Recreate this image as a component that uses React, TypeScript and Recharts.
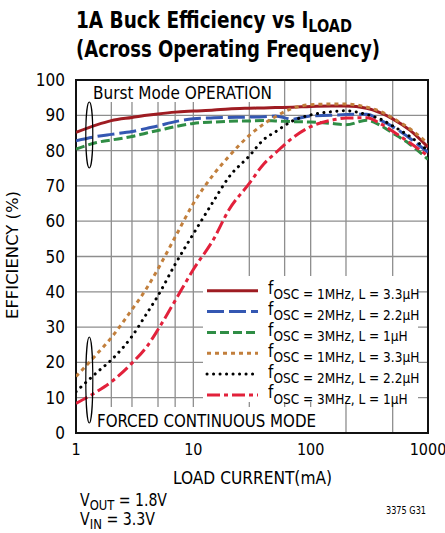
import React from 'react';
import {
  LineChart,
  Line,
  XAxis,
  YAxis,
  CartesianGrid,
  ReferenceArea
} from 'recharts';

// load current (mA), shared by every curve
const loadCurrent = [1, 1.5, 2, 3, 4, 5, 7, 10, 15, 20, 30, 40, 50, 70, 100, 150, 200, 300, 400, 500, 700, 1000];

// efficiency (%)
const burst1MHz = [85.2, 87.3, 88.5, 89.4, 90.0, 90.4, 90.9, 91.2, 91.5, 91.8, 92.0, 92.1, 92.2, 92.3, 92.5, 92.6, 92.6, 92.0, 90.6, 89.0, 85.8, 81.0];
const burst2MHz = [82.8, 84.0, 84.6, 85.4, 86.3, 87.0, 88.2, 89.0, 89.3, 89.4, 89.5, 89.6, 89.8, 88.9, 89.8, 90.0, 90.2, 90.3, 88.5, 86.8, 83.5, 79.5];
const burst3MHz = [80.4, 82.3, 83.0, 84.0, 85.0, 85.7, 86.8, 87.7, 88.1, 88.3, 88.4, 88.5, 88.4, 88.2, 88.1, 87.7, 87.3, 88.6, 87.0, 85.0, 81.8, 77.5];
const forced1MHz = [16.0, 22.3, 27.0, 35.0, 41.0, 46.5, 55.5, 65.0, 73.4, 78.3, 84.3, 87.6, 89.6, 92.0, 93.0, 93.2, 93.2, 92.3, 91.0, 89.2, 86.2, 82.0];
const forced2MHz = [11.7, 17.1, 20.7, 27.4, 33.8, 38.9, 47.8, 56.4, 65.9, 72.4, 78.5, 83.2, 85.3, 88.4, 90.1, 91.0, 91.3, 90.2, 88.8, 87.0, 84.0, 80.0];
const forced3MHz = [8.4, 11.7, 14.5, 19.8, 24.4, 29.3, 37.5, 46.3, 55.1, 63.1, 70.7, 76.3, 79.3, 83.6, 86.8, 88.6, 89.2, 89.3, 87.5, 85.5, 82.2, 78.5];

const xTicks = [1, 10, 100, 1000];
const yTicks = [0, 10, 20, 30, 40, 50, 60, 70, 80, 90, 100];
// log grid: 1..9 in every decade
const xGrid = [1, 10, 100].flatMap(d => [1, 2, 3, 4, 5, 6, 7, 8, 9].map(m => m * d)).concat([1000]);

const legendLabels = [
  { sub: 'OSC = 1MHz, L = 3.3μH', w: 147 },
  { sub: 'OSC = 2MHz, L = 2.2μH', w: 147 },
  { sub: 'OSC = 3MHz, L = 1μH', w: 135 },
  { sub: 'OSC = 1MHz, L = 3.3μH', w: 147 },
  { sub: 'OSC = 2MHz, L = 2.2μH', w: 147 },
  { sub: 'OSC = 3MHz, L = 1μH', w: 135 }
];

const seriesStyles = [
  { key: 'b1', stroke: '#9e1c22', dash: undefined, cap: 'butt' },
  { key: 'b2', stroke: '#3457b2', dash: '17 5', cap: 'butt' },
  { key: 'b3', stroke: '#2f8d45', dash: '9 4', cap: 'butt' },
  { key: 'f1', stroke: '#c27f3c', dash: '4 4', cap: 'butt' },
  { key: 'f2', stroke: '#000000', dash: '0.1 6.4', cap: 'round' },
  { key: 'f3', stroke: '#e2213b', dash: '13 4 4 4', cap: 'butt' }
];

const chartData = loadCurrent.map((x, i) => ({
  x,
  b1: burst1MHz[i],
  b2: burst2MHz[i],
  b3: burst3MHz[i],
  f1: forced1MHz[i],
  f2: forced2MHz[i],
  f3: forced3MHz[i]
}));

const font = "'Liberation Sans Narrow', 'DejaVu Sans Condensed', 'Roboto Condensed', sans-serif";

export default function App() {
  return (
    <div style={{ position: 'absolute', left: 0, top: 0, width: 445, height: 533, background: '#fff', fontFamily: font }}>
      <LineChart
        width={445}
        height={533}
        data={chartData}
        margin={{ top: 80, right: 17, left: 36, bottom: 70 }}
      >
        <CartesianGrid
          stroke="#8e8e8e"
          strokeWidth={1.3}
          horizontalValues={yTicks}
          verticalValues={xGrid}
        />
        <XAxis
          dataKey="x"
          type="number"
          scale="log"
          domain={[1, 1000]}
          ticks={xTicks}
          allowDataOverflow
          axisLine={false}
          tickLine={false}
          tickSize={0}
          tickMargin={11}
          height={30}
          tick={{ fill: '#000', fontSize: 16, fontFamily: font }}
        />
        <YAxis
          type="number"
          domain={[0, 100]}
          ticks={yTicks}
          axisLine={false}
          tickLine={false}
          tickSize={0}
          tickMargin={11}
          width={40}
          tick={{ fill: '#000', fontSize: 17, fontFamily: font }}
        />
        {seriesStyles.map(s => (
          <Line
            key={s.key}
            type="monotone"
            dataKey={s.key}
            stroke={s.stroke}
            strokeWidth={3}
            strokeDasharray={s.dash}
            strokeLinecap={s.cap as any}
            dot={false}
            isAnimationActive={false}
          />
        ))}
        <ReferenceArea x1={1} x2={1000} y1={0} y2={100} fill="none" stroke="#111" strokeWidth={2} ifOverflow="visible" />
      </LineChart>

      <svg width={445} height={533} style={{ position: 'absolute', left: 0, top: 0, pointerEvents: 'none' }} fontFamily={font}>
        {/* title */}
        <text x={76} y={28} fontSize={23} fontWeight="bold" textLength={276} lengthAdjust="spacingAndGlyphs">
          1A Buck Efficiency vs I<tspan fontSize={18} dy={4}>LOAD</tspan>
        </text>
        <text x={76} y={57} fontSize={23} fontWeight="bold" textLength={304} lengthAdjust="spacingAndGlyphs">(Across Operating Frequency)</text>

        {/* annotation boxes */}
        <rect x={78} y={81} width={200} height={21} fill="#fff" />
        <text x={93} y={99} fontSize={18} textLength={179} lengthAdjust="spacingAndGlyphs">Burst Mode OPERATION</text>
        <ellipse cx={89.3} cy={135} rx={3.5} ry={33} fill="none" stroke="#000" strokeWidth={1.2} />

        <rect x={93} y={407} width={226} height={25} fill="#fff" />
        <text x={97} y={427} fontSize={18} textLength={219} lengthAdjust="spacingAndGlyphs">FORCED CONTINUOUS MODE</text>
        <ellipse cx={89.3} cy={380} rx={3.5} ry={43} fill="none" stroke="#000" strokeWidth={1.2} />

        {/* legend */}
        <rect x={203} y={276} width={215} height={126} fill="#fff" />
        {legendLabels.map((l, i) => {
          const y = 290.7 + 20.85 * i;
          const s = seriesStyles[i];
          return (
            <g key={i}>
              <line x1={207} x2={258} y1={y} y2={y} stroke={s.stroke} strokeWidth={3} strokeDasharray={s.dash} strokeLinecap={s.cap as any} />
              <text x={268} y={y + 3.5} fontSize={17}>
                f<tspan fontSize={13.5} dy={5.1}>{l.sub}</tspan>
              </text>
            </g>
          );
        })}

        {/* axis titles */}
        <text x={18} y={255} fontSize={16} textAnchor="middle" transform="rotate(-90 18 255)" textLength={128} lengthAdjust="spacingAndGlyphs">EFFICIENCY (%)</text>
        <text x={173} y={484} fontSize={17} textLength={159} lengthAdjust="spacingAndGlyphs">LOAD CURRENT(mA)</text>

        {/* conditions */}
        <text x={80} y={506} fontSize={17} textLength={87} lengthAdjust="spacingAndGlyphs">
          V<tspan fontSize={14} dy={4}>OUT</tspan><tspan dy={-4}> = 1.8V</tspan>
        </text>
        <text x={80} y={525} fontSize={17} textLength={75} lengthAdjust="spacingAndGlyphs">
          V<tspan fontSize={14} dy={4}>IN</tspan><tspan dy={-4}> = 3.3V</tspan>
        </text>
        <text x={386} y={514} fontSize={10.5} textLength={40} lengthAdjust="spacingAndGlyphs">3375 G31</text>
      </svg>
    </div>
  );
}
